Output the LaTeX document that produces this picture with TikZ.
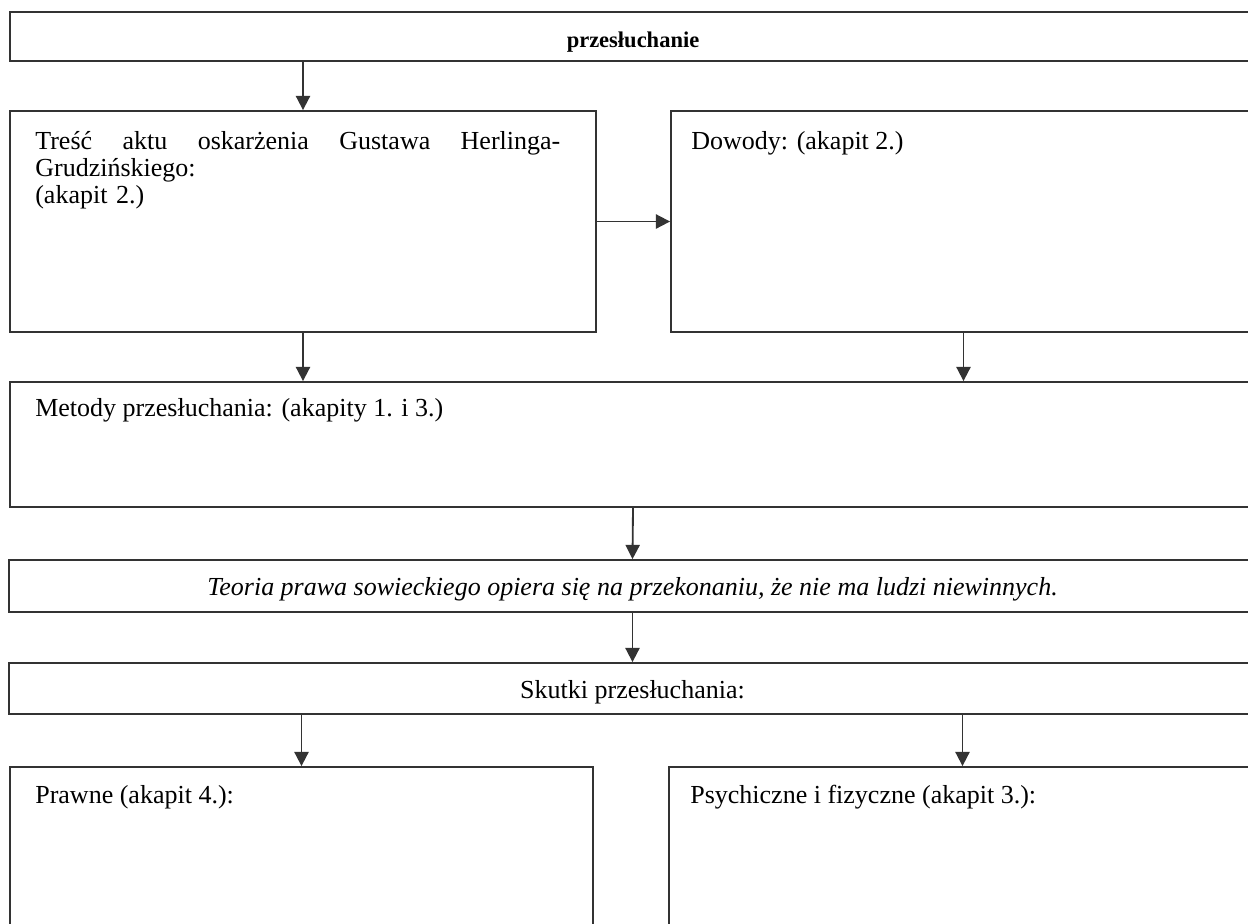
\documentclass[tikz,border=0pt]{standalone}
\usepackage{fontspec}
\setmainfont{Liberation Serif}
\usetikzlibrary{arrows.meta,fit}

\begin{document}
\begin{tikzpicture}[x=0.6pt, y=-0.6pt,
    box/.style={draw=black!80, line width=1.1pt, inner sep=0pt},
    mid/.style={font=\fontsize{15.6}{16}\selectfont, yshift=-2pt},
    txt/.style={anchor=north west, inner sep=0pt, align=left, font=\fontsize{15.6}{16.2}\selectfont},
    arr/.style={draw=black!80, line width=1.1pt, -{Triangle[width=8.5pt,length=8.5pt]}}]
  \useasboundingbox (0,0) rectangle (1248,923);
  \clip (0,0) rectangle (1248,923);

  \node[box, fit={(10,12) (1256,61)}, label={[font=\fontsize{13.5}{16}\selectfont\bfseries, yshift=-3.5pt]center:przesłuchanie}] (przes) {};
  \node[box, fit={(10,111) (596,332)}] (tresc) {};
  \node[box, fit={(671,111) (1256,332)}] (dowody) {};
  \node[box, fit={(10,382) (1256,507)}] (metody) {};
  \node[box, fit={(9,560) (1256,612)}, label={[mid, font=\fontsize{15.6}{16}\selectfont\itshape]center:Teoria prawa sowieckiego opiera się na przekonaniu, że nie ma ludzi niewinnych.}] (teoria) {};
  \node[box, fit={(9,663) (1256,714)}, label={[mid]center:Skutki przesłuchania:}] (skutki) {};
  \node[box, fit={(10,767) (593,940)}] (prawne) {};
  \node[box, fit={(669,767) (1256,940)}] (psych) {};

  \node[txt, text width=315pt] (tresc-txt) at (35,131)
    {\hbox to 315pt{Treść\hfill aktu\hfill oskarżenia\hfill Gustawa\hfill Herlinga-}\\Grudzińskiego:\\(akapit 2.)};
  \node[txt] (dowody-txt) at (691,131) {Dowody: (akapit 2.)};
  \node[txt] (metody-txt) at (35,398) {Metody przesłuchania: (akapity 1. i 3.)};
  \node[txt] (prawne-txt) at (35,785) {Prawne (akapit 4.):};
  \node[txt] (psych-txt) at (690,785) {Psychiczne i fizyczne (akapit 3.):};

  \draw[arr] (przes.south -| tresc.north) -- (tresc.north);
  \draw[arr] (tresc.east) -- (dowody.west);
  \draw[arr] (tresc.south) -- (tresc.south |- metody.north);
  \draw[arr] (dowody.south) -- (dowody.south |- metody.north);
  \draw[arr] (metody.south) -- (teoria.north);
  \draw[arr] (teoria.south) -- (skutki.north);
  \draw[arr] (skutki.south -| prawne.north) -- (prawne.north);
  \draw[arr] (skutki.south -| psych.north) -- (psych.north);
\end{tikzpicture}
\end{document}
